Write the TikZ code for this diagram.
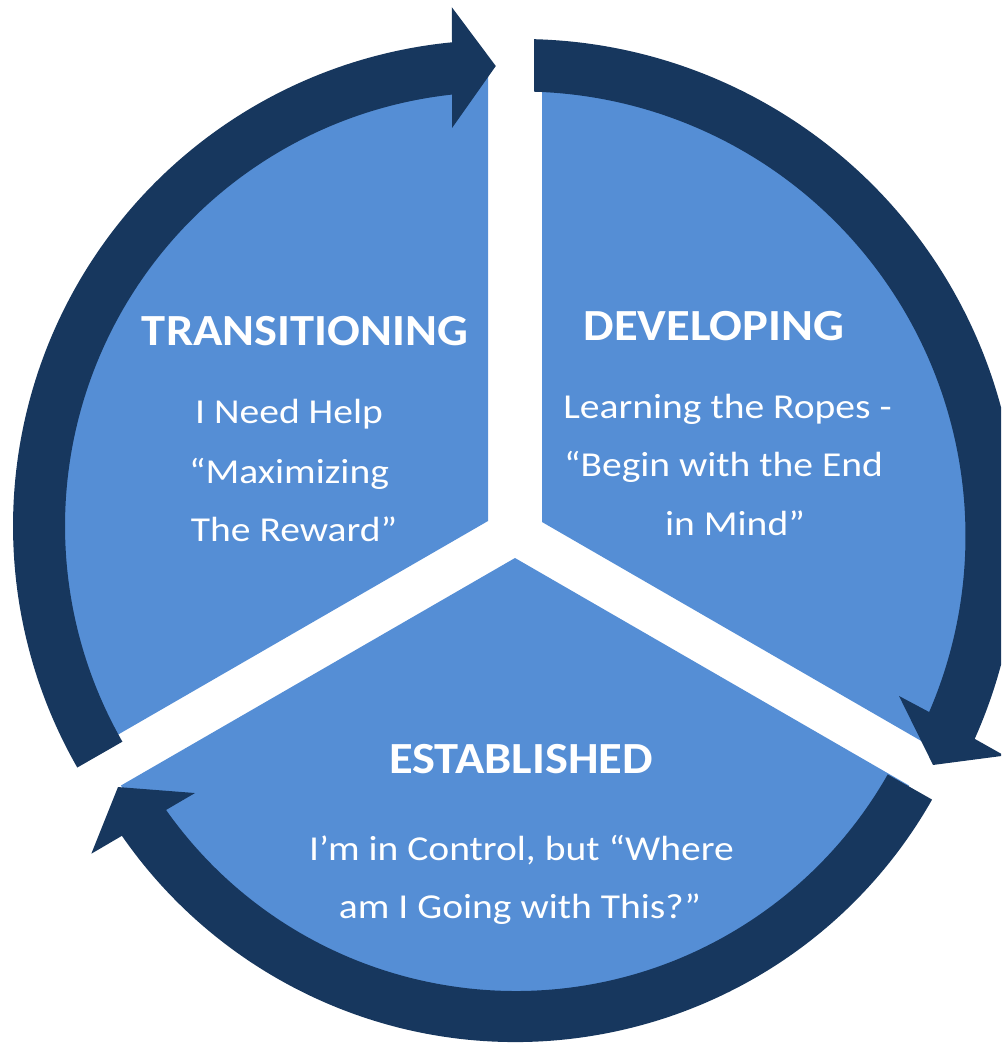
\documentclass[tikz,border=0pt]{standalone}
\usepackage{fontspec}
\usepackage{graphicx}
\setmainfont{Carlito}
\definecolor{navy}{HTML}{17375E}
\definecolor{pieblue}{HTML}{558ED5}
\newcommand{\ttl}[1]{\scalebox{1.09}[1]{#1}}
\newcommand{\bdy}[1]{\scalebox{1.13}[1]{#1}}
\begin{document}
\begin{tikzpicture}[x=1pt,y=-1pt,
  slice/.style={fill=pieblue,draw=none},
  ringarrow/.style={fill=navy,draw=none},
  titletext/.style={anchor=base,inner sep=0pt,text=white,font=\fontsize{44.5}{50}\selectfont\bfseries},
  bodytext/.style={anchor=base,inner sep=0pt,text=white,font=\fontsize{35}{40}\selectfont}]
\useasboundingbox (0,0) rectangle (1001,1043);
\clip (0,0) rectangle (1001,1043);
% pie slices
\begin{scope}[shift={(488,521)},yscale=-1]
  \path[slice] (0,0) -- (90:450) arc[start angle=90,end angle=210,radius=450] -- cycle;
\end{scope}
\begin{scope}[shift={(542,522)},yscale=-1]
  \path[slice] (0,0) -- (-30:450) arc[start angle=-30,end angle=90,radius=450] -- cycle;
\end{scope}
\begin{scope}[shift={(515,558)},yscale=-1]
  \path[slice] (0,0) -- (210:455) arc[start angle=210,end angle=330,radius=455] -- cycle;
\end{scope}
% left arrow (up to the top)
\begin{scope}[shift={(499,526)},yscale=-1]
  \path[ringarrow] (209.8:486) arc[start angle=209.8,end angle=95.55,radius=486]
    -- (95.2:521) -- (90.4:460) -- (96.7:401) -- (96.2:434)
    arc[start angle=96.2,end angle=209.8,radius=434] -- cycle;
\end{scope}
% right arrow (top to lower right)
\begin{scope}[shift={(521,536)},yscale=-1]
  \path[ringarrow] (88.5:497) arc[start angle=88.5,end angle=-24.09,radius=497]
    -- (-24.43:531) -- (-29.06:471.4) -- (-22.94:410.5) -- (-23.33:444.5)
    arc[start angle=-23.33,end angle=88.3,radius=444.5] -- cycle;
\end{scope}
% bottom arrow (lower right to lower left)
\begin{scope}[shift={(515.6,563)},yscale=-1]
  \path[ringarrow] (-29.6:479) arc[start angle=-29.6,end angle=-145.28,radius=479]
    -- (-145.58:514.3) -- (-150.6:456.4) -- (-144.34:394.6) -- (-144.76:428)
    arc[start angle=-144.76,end angle=-29.6,radius=428] -- cycle;
\end{scope}
% texts
\node[titletext] (t1) at (305,345) {\ttl{TRANSITIONING}};
\node[bodytext] (t1a) at (289,423.3) {\bdy{I Need Help}};
\node[bodytext] (t1b) at (289,483.5) {\bdy{“Maximizing}};
\node[bodytext] (t1c) at (294,541.7) {\bdy{The Reward”}};
\node[titletext] (t2) at (714,340) {\ttl{DEVELOPING}};
\node[bodytext] (t2a) at (727.5,418) {\bdy{Learning the Ropes -}};
\node[bodytext] (t2b) at (723.5,476.7) {\bdy{“Begin with the End}};
\node[bodytext] (t2c) at (735,535) {\bdy{in Mind”}};
\node[titletext] (t3) at (521,773) {\ttl{ESTABLISHED}};
\node[bodytext] (t3a) at (521.5,860) {\bdy{I’m in Control, but “Where}};
\node[bodytext] (t3b) at (520,918) {\bdy{am I Going with This?”}};
\end{tikzpicture}
\end{document}
